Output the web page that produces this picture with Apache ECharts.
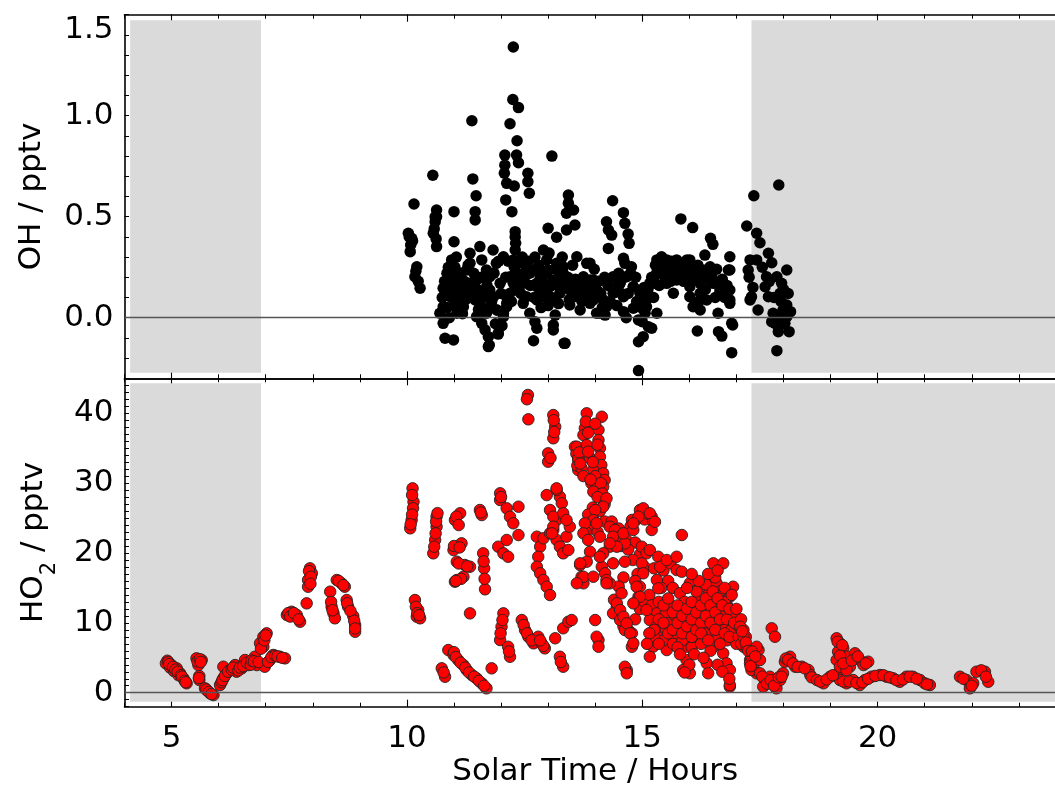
<!DOCTYPE html>
<html><head><meta charset="utf-8">
<script src="https://cdn.jsdelivr.net/npm/echarts@6/dist/echarts.min.js"></script>
<style>html,body{margin:0;padding:0;background:#fff;overflow:hidden}#c{width:1070px;height:792px}</style>
</head><body><div id="c"></div>
<script>
// OH (pptv) vs solar time (hours)
const ohData = [
[12.26,1.34],[12.25,1.08],[12.37,1.04],[11.38,0.975],[12.19,0.96],[12.34,0.876],[13.08,0.80],[12.08,0.805],[12.33,0.805],[12.08,0.755],[12.37,0.767],[12.07,0.715],[12.57,0.715],[12.57,0.673],[12.12,0.665],[12.28,0.652],[12.60,0.616],[10.55,0.705],[11.40,0.687],[11.47,0.604],[12.10,0.583],[12.23,0.525],[10.15,0.563],[10.63,0.533],[10.63,0.50],[11.0,0.525],[11.45,0.525],[11.45,0.484],[13.43,0.607],[13.43,0.566],[13.54,0.533],[13.39,0.517],[13.57,0.459],[13.39,0.434],[13.0,0.443],[13.18,0.398],[10.03,0.418],[10.10,0.393],[10.07,0.327],[10.6,0.475],[10.56,0.418],[10.63,0.352],[11.0,0.376],[12.3,0.426],[12.31,0.368],[12.30,0.335],[10.21,0.252],[10.17,0.203],[10.28,0.146],
[10.81,-0.102],[10.99,-0.110],[11.73,-0.094],[11.75,-0.135],[11.94,-0.081],[12.69,-0.114],[13.11,-0.061],[13.11,-0.036],[13.34,-0.127],[12.76,-0.052],[12.72,-0.02],[13.15,0.013],[13.46,0.063],[13.68,0.038],[10.77,-0.028],[10.70,0.022],[10.77,0.054],[11.48,0.005],[11.59,-0.028],[11.69,0.022],[11.91,0.038],[12.05,0.005],[12.12,0.054],[11.06,0.022],[11.2,0.054],[11.09,0.088],[11.73,-0.143],[11.94,-0.077],[13.36,-0.127],
[10.77,0.146],[10.95,0.286],[10.95,0.22],[11.16,0.17],[11.34,0.319],[11.34,0.269],
[11.55,0.352],[11.59,0.286],[11.76,0.203],[11.83,0.335],[11.90,0.269],[12.05,0.302],[12.26,0.286],[12.47,0.269],[12.61,0.22],[12.76,0.236],[12.90,0.335],[12.97,0.286],[13.18,0.269],[13.32,0.22],[13.61,0.302],[13.82,0.269],[13.96,0.187],
[11.06,0.203],[11.27,0.137],[11.41,0.104],[11.55,0.071],[11.76,0.137],[11.98,0.17],[12.19,0.203],[12.33,0.137],[12.54,0.104],[12.76,0.17],[12.90,0.104],[13.04,0.153],[13.25,0.121],[13.46,0.137],[13.61,0.104],[13.82,0.137],[13.89,0.071],
[10.92,0.104],[10.99,0.17],[11.27,0.236],[11.48,0.187],[11.69,0.236],[12.12,0.104],[12.47,0.17],[12.69,0.236],[12.83,0.203],[13.0,0.236],[13.32,0.252],[13.50,0.17],[13.75,0.203],[12.47,0.071],[12.61,0.022],
[10.85,0.22],[10.92,0.17],[11.06,0.153],[11.13,0.203],[11.20,0.121],[11.34,0.17],[11.45,0.088],[11.55,0.121],[11.62,0.038],[11.76,0.054],[11.84,0.104],[11.91,0.038],[12.05,0.022],[12.12,0.071],[12.19,0.121],[12.26,0.17],[12.40,0.203],[12.54,0.236],[12.76,0.153],[12.76,0.088],[12.83,0.121],[12.97,0.22],[13.11,0.187],[13.25,0.203],[13.39,0.153],[13.53,0.137],[13.68,0.121],[13.82,0.104],[13.96,0.088],[14.03,0.137],[14.10,0.022],[14.24,0.054],[14.38,0.121],[14.53,0.17],[14.67,0.203],[14.81,0.153],[14.95,0.121],[15.09,0.088],[15.16,0.17],[15.31,0.22],[15.45,0.252],[15.59,0.269],[15.73,0.203],[15.87,0.252],[16.01,0.286],[16.16,0.187],[16.30,0.22],[16.44,0.252],[16.51,0.17],[16.65,0.137],
[14.37,0.579],[14.60,0.52],[14.63,0.467],[14.70,0.414],[14.72,0.368],[14.24,0.475],[14.28,0.434],[14.35,0.409],[14.28,0.343],[14.60,0.294],[14.63,0.269],[14.77,0.252],[15.82,0.489],[16.07,0.446],[16.45,0.393],[16.50,0.363],[16.86,0.302],[16.83,0.236],[16.86,0.137],[16.86,0.071],[16.90,-0.028],[16.92,-0.036],[16.90,-0.173],[16.17,-0.066],[16.62,-0.069],[16.69,-0.091],[14.92,-0.119],[15.02,-0.094],[14.92,-0.262],[14.92,-0.011],[15.06,0.022],[15.13,-0.045],[15.09,0.054],[15.16,0.104],[15.27,0.17],[15.34,0.22],[15.38,0.269],[15.41,0.302],[15.2,-0.052],[15.31,0.022],
[13.89,0.269],[13.89,0.187],[14.03,0.137],[14.17,0.088],[14.03,0.022],[14.21,0.013],[14.38,0.203],[14.52,0.17],[14.60,0.104],[14.81,0.153],[14.81,0.047],[14.60,0.03],[15.02,0.104],
[15.31,0.286],[15.52,0.286],[15.73,0.286],[15.95,0.286],[16.33,0.31],[15.31,0.22],[15.59,0.236],[15.84,0.203],[16.08,0.252],[16.29,0.236],[16.44,0.244],[15.52,0.17],[15.73,0.187],[16.01,0.153],[16.23,0.17],[16.44,0.187],[16.65,0.162],[15.66,0.121],[16.01,0.104],[16.23,0.121],[16.37,0.088],[16.65,0.121],[16.08,0.054],[16.23,0.038],[16.61,0.022],[16.86,0.236],[16.86,0.088],
[10.05,0.40],[10.08,0.36],[10.12,0.38],[10.19,0.23],[10.24,0.18],[10.58,0.44],[10.62,0.39],[10.6,0.50],[10.75,0.10],[10.8,0.18],[10.85,0.05],[10.88,0.25],[10.9,0.0],[10.95,0.14],[11.0,0.06],[11.02,0.25],[11.05,0.30],[11.1,0.12],[11.15,0.22],[11.18,0.02],[11.22,0.18],[11.25,0.09],[11.3,0.26],[11.38,0.12],[11.42,0.22],[11.5,0.14],[11.52,0.04],[11.58,0.2],[11.62,0.1],[11.66,-0.06],[11.7,0.16],[11.8,0.08],[11.85,0.22],[11.88,-0.03],[11.95,0.28],[12.0,0.12],[12.02,-0.04],[12.1,0.2],[12.15,0.28],[12.22,0.08],[12.28,0.25],[12.3,0.4],[12.35,0.22],[12.42,0.12],[12.45,0.3],[12.5,0.2],[12.58,0.28],[12.62,0.16],[12.7,0.1],[12.72,0.3],[12.8,0.26],[12.85,0.05],[12.88,0.18],[12.95,0.14],[13.0,0.06],[13.02,0.32],[13.08,0.1],[13.15,0.24],[13.2,0.16],[13.22,0.07],[13.3,0.3],[13.35,0.18],[13.42,0.2],[13.45,0.09],[13.52,0.26],[13.58,0.19],[13.65,0.16],[13.72,0.08],[13.78,0.18],[13.85,0.15],[13.92,0.12],[13.98,0.24],[14.07,0.18],[14.12,0.12],[14.15,0.05],[14.2,0.2],[14.27,0.16],[14.32,0.08],[14.42,0.15],[14.46,0.06],[14.5,0.22],[14.56,0.12],[14.62,0.2],[14.66,0.0],[14.7,0.12],[14.75,0.22],[14.86,0.2],[14.88,0.08],[14.98,0.05],[15.0,-0.02],[15.04,0.15],[15.12,0.14],[15.2,0.2],[15.24,0.1],[15.28,0.26],[15.36,0.16],[15.42,0.24],[15.48,0.2],[15.55,0.22],[15.6,0.18],[15.62,0.28],[15.68,0.24],[15.76,0.22],[15.8,0.26],[15.88,0.18],[15.92,0.22],[15.98,0.24],[16.04,0.2],[16.12,0.22],[16.18,0.26],[16.2,0.08],[16.26,0.2],[16.34,0.14],[16.4,0.21],[16.48,0.2],[16.55,0.1],[16.58,0.24],[16.7,0.19],[16.75,0.1],[16.8,0.16],
[17.37,0.604],[17.90,0.657],[17.22,0.454],[17.43,0.418],[17.50,0.371],[17.68,0.319],[17.75,0.272],[18.07,0.236],[17.29,0.286],[17.43,0.286],[17.25,0.236],[17.64,0.203],[17.86,0.203],[17.61,0.153],[17.96,0.17],[17.68,0.104],[17.93,0.121],[18.07,0.063],[17.32,0.104],[17.29,0.088],[17.46,0.038],[17.78,0.022],[17.99,0.038],[18.07,0.005],[17.82,-0.028],[18.03,-0.028],[17.89,-0.069],[18.12,-0.069],[17.86,-0.163],
[17.27,0.2],[17.35,0.15],[17.55,0.25],[17.7,0.18],[17.8,0.1],[17.95,0.08],[18.0,0.14],[18.1,0.12],[18.15,0.03],[17.9,0.0],[17.98,-0.03],[17.75,-0.02]
];

// HO2 (pptv) vs solar time (hours)
const ho2Data = [
[4.91,4.58],[5.0,3.96],[5.11,3.49],[5.18,2.78],[5.25,2.06],[5.32,1.35],[4.88,4.2],[4.97,3.6],[5.05,3.1],[5.15,2.5],[5.53,4.92],[5.64,4.68],[5.57,3.96],[5.59,2.39],[5.59,1.82],[5.71,0.63],[5.82,-0.09],[5.89,-0.33],[5.76,0.3],[6.03,1.10],[6.10,2.06],[6.17,2.78],[6.10,3.72],[6.24,3.25],[6.38,3.01],[6.35,3.96],[6.49,3.49],[6.56,4.68],[6.63,3.96],[6.73,4.20],[6.77,5.15],[6.81,3.96],[6.88,7.07],[6.95,8.01],[7.02,8.50],[6.95,6.58],[6.98,3.72],[7.09,4.68],[7.16,5.40],[7.30,5.15],[7.41,4.92],[7.45,11.12],[7.55,11.59],[7.66,11.12],[7.73,10.16],[7.87,12.79],[7.94,17.80],[7.98,17.09],[7.90,16.13],[7.90,15.17],[8.37,14.46],[8.40,12.31],[8.44,11.36],[8.47,10.65],[8.51,16.13],[8.61,15.66],[8.68,15.17],[8.72,13.27],[8.75,12.31],[8.86,10.98],[8.90,9.69],[8.90,8.73],[10.17,13.27],[10.21,10.88],
[4.93,4.4],[4.95,4.1],[5.03,3.7],[5.08,3.3],[5.13,3.0],[5.2,2.5],[5.22,2.3],[5.28,1.7],[5.3,1.5],[5.55,4.5],[5.6,4.8],[5.62,4.4],[5.58,2.1],[5.74,0.45],[5.79,0.1],[5.85,-0.2],[6.06,1.5],[6.08,1.8],[6.13,2.4],[6.2,3.0],[6.28,3.3],[6.31,3.6],[6.42,3.2],[6.45,3.6],[6.52,3.8],[6.6,4.3],[6.68,4.0],[6.7,4.6],[6.75,4.5],[6.85,4.4],[6.9,6.3],[6.97,7.5],[7.0,8.2],[7.05,4.4],[7.12,5.1],[7.2,5.3],[7.25,5.2],[7.35,5.0],[7.48,11.4],[7.52,10.9],[7.6,11.4],[7.7,10.5],[7.92,17.4],[7.96,16.6],[7.95,15.6],[8.39,13.0],[8.42,11.8],[8.55,16.0],[8.65,15.4],[8.73,12.8],[8.8,11.7],[8.88,10.3],[8.9,9.2],
[12.57,42.61],[12.58,39.13],[13.11,39.74],[13.15,38.07],[13.11,36.41],[13.0,34.26],[13.0,33.06],[13.57,35.21],[13.64,33.30],[13.64,31.87],[10.12,29.25],[10.14,27.33],[10.10,24.72],[10.07,23.53],[10.24,11.84],[10.28,10.65],[10.63,25.19],[10.63,23.76],[10.60,21.86],[10.56,19.95],[11.02,24.72],[11.13,25.68],[10.99,20.42],[11.16,21.38],[11.06,18.75],[11.23,18.28],[11.34,18.03],[11.06,16.13],[11.20,16.60],[11.02,15.89],[11.55,26.15],[11.59,25.43],[11.62,19.95],[11.64,17.80],[11.66,14.80],[11.98,28.54],[11.98,27.58],[12.12,26.39],[12.19,25.19],[12.37,26.62],[12.26,24.25],[12.37,22.57],[11.94,20.90],[12.05,19.95],[12.15,19.46],[12.12,21.86],[11.34,11.36],[12.05,11.36],[12.01,9.45],[11.98,7.54],[12.15,6.58],[12.19,5.15],[12.44,10.40],[12.51,8.97],[12.58,8.01],[12.69,7.07],[12.79,8.01],[12.86,7.07],[12.93,6.35],[13.15,7.79],[13.32,9.22],[13.43,10.16],[13.25,5.15],[13.32,3.72],[10.88,6.11],[10.99,5.40],[11.09,4.68],[11.20,3.96],[11.27,3.25],[10.74,3.49],[10.81,2.29],[11.38,2.53],[11.48,2.06],[11.59,1.35],[11.69,0.63],[11.80,3.49],
[10.11,28.3],[10.13,26.4],[10.11,25.5],[10.08,24.1],[10.19,12.3],[10.22,11.4],[10.26,11.1],[10.62,24.5],[10.61,22.8],[10.58,20.9],[10.65,25.7],[11.05,25.2],[11.1,24.0],[11.0,21.0],[11.12,20.8],[11.15,16.3],[11.04,16.0],[11.1,18.5],[11.28,18.1],[11.57,25.8],[11.63,18.8],[11.65,16.3],[11.0,5.8],[11.04,5.1],[11.14,4.3],[11.24,3.6],[11.32,2.9],[11.43,2.3],[11.53,1.7],[11.64,1.0],[10.78,2.9],[12.0,28.0],[12.03,10.4],[11.99,8.5],[12.17,5.9],[12.48,9.7],[12.55,8.5],[12.65,7.5],[12.9,6.7],[12.83,7.5],[12.55,42.0],[13.12,39.0],[13.13,37.3],[13.05,33.6],[13.6,34.2],[13.62,32.5],[13.27,4.4],
[12.76,22.33],[12.83,20.90],[12.79,19.46],[12.76,18.03],[12.83,17.09],[12.90,16.13],[12.97,15.17],[13.04,13.98],[12.90,22.10],[13.04,22.81],[13.11,23.28],[13.18,24.72],[13.18,21.86],[13.25,20.90],[13.32,19.95],[13.39,22.33],[13.46,23.76],[13.43,20.42],[13.25,28.05],[13.18,29.01],
[12.97,28.29],[13.18,29.25],[13.29,27.11],[13.04,26.15],[13.11,25.19],[13.32,25.68],[13.39,24.72],[13.11,23.76],[13.08,22.81],
[13.82,39.99],[14.14,39.50],[13.78,37.84],[13.75,36.88],[14.07,37.60],[14.07,36.16],[13.61,35.21],[13.64,33.55],[13.71,32.12],[13.82,35.45],[13.89,33.55],[14.10,34.98],[14.10,33.78],[14.13,32.59],[13.96,31.87],[14.17,31.40],[14.20,30.44],[14.17,29.48],[13.92,29.97],[13.96,28.77],
[13.8,38.8],[13.85,37.2],[14.0,38.5],[14.05,35.5],[13.66,34.4],[13.68,32.8],[13.75,31.0],[13.85,34.5],[13.95,33.0],[14.0,31.0],[14.12,30.0],[14.15,28.5],[13.9,30.5],[14.05,28.0],[14.2,27.0],[14.1,26.0],[13.95,26.5],[13.85,25.5],[13.9,23.5],[13.8,23.0],[14.05,23.0],[14.2,24.5],[14.35,24.5],[14.45,22.0],[14.55,21.0],[14.5,23.5],[14.65,22.0],[14.75,23.8],[14.88,24.8],[15.05,24.8],[15.2,25.2],[14.85,21.5],[14.95,19.8],[15.05,18.0],[15.25,17.8],[15.45,17.5],[15.6,18.5],[15.55,16.0],[15.4,15.0],[15.65,15.0],[14.7,20.5],[14.8,19.0],[14.9,17.0],[14.85,16.0],[14.6,16.5],[14.5,15.2],[14.4,13.3],[14.5,11.0],[14.6,9.5],[14.7,9.0],[14.85,10.5],[14.95,12.0],[15.05,13.0],[15.15,14.0],[15.2,12.5],
[14.24,27.82],[14.17,26.62],[14.0,26.15],[13.96,24.72],[13.78,24.25],[13.75,22.81],[13.85,21.86],[14.03,24.25],[14.10,22.33],[14.31,23.76],[14.42,23.29],[14.53,22.33],[14.63,21.38],[14.31,20.90],[14.17,19.95],[13.89,20.18],[13.82,18.75],[13.68,18.28],[13.71,16.60],[13.75,15.66],[14.14,18.03],[14.21,17.09],[14.31,15.66],[14.24,16.13],[14.38,22.33],[14.46,20.90],[14.60,22.81],[14.81,23.29],[14.78,24.72],[14.95,26.15],[15.09,25.68],[15.23,24.47],[15.20,23.29],[14.99,20.90],[15.09,19.95],[14.99,18.52],[15.02,17.09],[15.16,20.42],[15.34,19.46],[15.38,18.03],[15.31,16.13],[15.34,14.94],[15.52,18.99],[15.73,19.46],[15.73,17.56],[15.84,17.32],[15.84,22.57],[14.95,15.17],[14.92,13.74],[14.56,14.23],[14.46,12.31],[14.38,11.36],[14.53,10.40],[14.63,8.97],[14.78,8.50],[14.78,6.58],[14.67,3.25],[14.07,7.54],[14.0,10.40],[13.50,10.40],
[15.02,26.39],[15.16,25.68],[15.27,24.47],[14.92,25.19],[14.81,24.25],[13.68,18.52],[13.75,16.60],[13.61,15.66],[14.03,8.01],[14.07,6.58],[14.63,3.72],[14.67,2.78],[14.63,18.75],[14.46,12.79],[14.53,11.84],[14.60,10.88],[14.67,9.93],[14.74,8.50],[14.81,7.07],[14.88,15.17],[14.95,13.74],[14.81,12.79],[13.96,16.60],[14.10,19.46],[14.31,21.38],[14.38,18.52],[14.24,15.66],
[16.51,18.52],[16.72,18.52],[16.51,16.60],[16.58,15.66],[16.93,15.17],[16.86,13.74],[16.01,15.66],[16.23,15.17],[15.80,14.23],[15.59,12.31],[15.31,11.36],[15.16,10.40],[15.09,11.84],
[15.23,6.58],[15.16,5.15],[15.52,7.07],[15.52,6.11],[15.94,6.58],[15.94,4.68],[15.87,3.25],[16.01,2.78],[16.37,4.21],[16.40,2.78],[16.51,6.58],[16.72,5.64],[16.79,4.21],[16.86,3.25],[16.86,0.86],[16.86,1.10],[17.0,8.50],[17.15,6.58],[17.29,4.68],[17.36,3.72],[17.43,2.78],
[15.3,9.5],[15.4,10.5],[15.4,8.5],[15.5,11.5],[15.5,9.0],[15.6,10.0],[15.6,12.5],[15.7,11.0],[15.7,8.0],[15.8,9.5],[15.8,12.0],[15.9,10.5],[15.9,13.0],[16.0,9.0],[16.0,11.5],[16.1,10.0],[16.1,12.5],[16.1,8.0],[16.2,11.0],[16.2,13.5],[16.3,9.5],[16.3,12.0],[16.35,10.5],[16.4,14.0],[16.4,8.5],[16.45,11.5],[16.5,9.5],[16.5,13.0],[16.55,10.5],[16.6,12.0],[16.6,8.0],[16.65,14.5],[16.7,10.0],[16.7,11.5],[16.75,9.0],[16.8,12.5],[16.8,7.5],[16.9,10.5],[16.9,9.0],[16.95,11.5],[17.0,7.0],[17.05,9.5],[15.35,13.0],[15.45,7.5],[15.65,7.0],[15.85,7.5],[16.05,6.5],[16.25,7.0],[16.45,6.0],[16.15,14.5],[15.95,15.0],[16.35,15.5],[16.55,16.5],[16.75,13.0],
[15.25,8.0],[15.35,10.5],[15.35,7.0],[15.45,12.5],[15.45,10.0],[15.55,8.5],[15.55,13.5],[15.65,9.0],[15.65,11.5],[15.75,10.0],[15.75,12.5],[15.75,6.5],[15.85,8.5],[15.85,11.0],[15.95,9.5],[15.95,12.0],[16.05,10.5],[16.05,13.0],[16.05,8.0],[16.15,9.0],[16.15,11.5],[16.25,10.0],[16.25,12.5],[16.25,8.5],[16.35,11.0],[16.35,13.5],[16.4,7.5],[16.45,10.0],[16.45,12.5],[16.5,14.5],[16.55,9.0],[16.55,11.5],[16.6,13.5],[16.65,10.5],[16.65,7.0],[16.7,12.5],[16.75,8.5],[16.75,15.0],[16.8,10.5],[16.85,12.0],[16.85,8.0],[16.9,14.0],[16.95,10.0],[17.0,12.0],[17.05,8.0],[17.1,10.5],[17.1,7.0],[17.15,9.0],[17.2,8.0],[16.1,5.5],[16.3,5.0],[15.8,5.5],[16.6,4.0],[16.7,3.0],[16.0,4.0],[15.9,2.9],[16.85,2.0],[16.2,16.0],[16.4,17.0],[16.6,17.5],[16.05,17.0],[15.25,9.0],[15.15,8.5],[15.1,7.0],
[17.08,9.45],[17.15,8.01],[17.22,6.58],[17.36,5.64],[17.47,6.11],[17.50,4.68],[17.29,4.21],[17.32,3.25],[17.75,9.22],[17.82,8.01],[17.50,2.78],[17.61,1.82],[17.57,0.86],[17.71,2.29],[17.78,1.35],[17.85,0.63],[17.93,1.82],[17.99,2.78],[18.03,4.44],[18.14,5.15],[18.25,3.72],[18.39,3.72],[18.53,3.25],[18.57,2.53],[17.43,6.58],[17.32,5.15],
[17.12,8.8],[17.2,7.2],[17.25,6.0],[17.33,5.9],[17.4,5.2],[17.3,3.8],[17.55,2.3],[17.65,1.3],[17.73,1.8],[17.8,1.0],[17.9,2.2],[17.96,2.3],[18.05,4.9],[18.1,4.7],[18.2,4.2],[18.3,3.7],[18.45,3.5],[18.6,2.2],
[18.71,1.82],[18.85,1.35],[18.99,2.29],[19.13,2.53],[19.20,1.82],[19.34,1.35],[19.48,1.82],[19.62,1.10],[19.73,1.82],[19.87,2.29],[20.05,2.53],[20.19,2.29],[20.33,2.06],[20.47,1.57],[20.61,2.29],[20.75,2.29],[20.90,1.82],[21.00,1.35],[21.11,1.10],
[18.78,1.6],[18.92,1.9],[19.05,2.5],[19.27,1.6],[19.4,1.6],[19.55,1.4],[19.68,1.5],[19.8,2.0],[19.95,2.4],[20.12,2.5],[20.26,2.2],[20.4,1.8],[20.54,1.9],[20.68,2.3],[20.83,2.0],[21.05,1.2],
[19.13,7.79],[19.20,7.07],[19.27,6.35],[19.16,5.87],[19.13,4.68],[19.20,3.72],[19.34,5.15],[19.41,3.72],[19.52,5.64],[19.62,4.68],[19.80,4.44],[19.70,3.96],[19.34,3.25],
[19.15,7.3],[19.25,6.8],[19.2,5.3],[19.27,4.2],[19.45,4.6],[19.58,5.2],[19.75,4.2],
[21.75,2.29],[21.89,1.82],[22.03,1.35],[21.96,0.63],[22.10,3.01],[22.28,3.01],[22.35,1.57],[21.82,2.0],[22.0,1.0],[22.2,3.2],[22.3,2.3]
];

// night-time (shaded) periods, solar hours
const nightPeriods = [[4.12, 6.9], [17.32, 23.9]];
const xTickLabels = [5, 10, 15, 20];
const ohTickLabels = [0, 0.5, 1.0, 1.5];
const ho2TickLabels = [0, 10, 20, 30, 40];

const FONT = 'DejaVu Sans';
const FS = 31;
const chart = echarts.init(document.getElementById('c'));

function xAx(grid, pos, major, labels) {
  const a = {
    type: 'value', gridIndex: grid, position: pos, min: 4, max: 24, interval: 1,
    axisLine: { show: !major, onZero: false, lineStyle: { color: '#000', width: 1.6 } },
    axisTick: major
      ? { inside: true, length: 7, customValues: xTickLabels, lineStyle: { color: '#000', width: 1.1 } }
      : { inside: true, length: 4, lineStyle: { color: '#000', width: 1 } },
    axisLabel: labels
      ? { show: true, customValues: xTickLabels, margin: 17, fontSize: FS, fontFamily: FONT, color: '#000' }
      : { show: false },
    splitLine: { show: false }
  };
  if (labels) {
    a.name = 'Solar Time / Hours';
    a.nameLocation = 'middle';
    a.nameGap = 50;
    a.nameTextStyle = { fontSize: FS, fontFamily: FONT, color: '#000' };
  }
  return a;
}

function bgSeries(xi, yi, ylo, yhi) {
  return {
    type: 'scatter', xAxisIndex: xi, yAxisIndex: yi, data: [], z: 1, silent: true,
    markArea: {
      silent: true, itemStyle: { color: '#dadada' },
      data: nightPeriods.map(p => [{ xAxis: p[0], yAxis: ylo }, { xAxis: p[1], yAxis: yhi }])
    },
    markLine: {
      silent: true, symbol: 'none', label: { show: false },
      lineStyle: { color: '#555', width: 1.4, type: 'solid' },
      data: [{ yAxis: 0 }]
    }
  };
}

const option = {
  backgroundColor: '#fff',
  animation: false,
  grid: [
    { left: 124.5, top: 14.7, width: 941.4, height: 363.6 },
    { left: 124.5, top: 378.3, width: 941.4, height: 328.4 }
  ],
  xAxis: [
    xAx(0, 'bottom', false, false), xAx(0, 'top', false, false),
    xAx(0, 'bottom', true, false), xAx(0, 'top', true, false),
    xAx(1, 'bottom', false, true), xAx(1, 'top', false, false),
    xAx(1, 'bottom', true, false), xAx(1, 'top', true, false)
  ],
  yAxis: [
    {
      type: 'value', gridIndex: 0, position: 'left', min: -0.3, max: 1.5, interval: 0.1,
      axisLine: { show: true, onZero: false, lineStyle: { color: '#000', width: 1.6 } },
      axisTick: { inside: true, length: 4.5, lineStyle: { color: '#000', width: 1 } },
      axisLabel: { customValues: ohTickLabels, formatter: v => Number(v).toFixed(1), margin: 11,
        fontSize: FS, fontFamily: FONT, color: '#000', verticalAlignMaxLabel: 'top' },
      splitLine: { show: false },
      name: 'OH / pptv', nameLocation: 'middle', nameGap: 77,
      nameTextStyle: { fontSize: FS, fontFamily: FONT, color: '#000' }
    },
    {
      type: 'value', gridIndex: 1, position: 'left', min: -2, max: 45, interval: 1,
      axisLine: { show: true, onZero: false, lineStyle: { color: '#000', width: 1.6 } },
      axisTick: { inside: true, length: 4.5, lineStyle: { color: '#000', width: 1 } },
      axisLabel: { customValues: ho2TickLabels, margin: 11, fontSize: FS, fontFamily: FONT, color: '#000' },
      splitLine: { show: false },
      name: '{a|HO}{s|2}{a| / pptv}', nameLocation: 'middle', nameGap: 64,
      nameTextStyle: {
        rich: {
          a: { fontSize: FS, fontFamily: FONT, color: '#000', lineHeight: 42, verticalAlign: 'top' },
          s: { fontSize: 21, fontFamily: FONT, color: '#000', lineHeight: 21, verticalAlign: 'bottom' }
        }
      }
    }
  ],
  graphic: [
    { type: 'text', left: 997, top: 27, style: { text: '(a)', font: FS + 'px "' + FONT + '"', fill: '#000' } },
    { type: 'text', left: 997, top: 389, style: { text: '(b)', font: FS + 'px "' + FONT + '"', fill: '#000' } }
  ],
  series: [
    bgSeries(0, 0, -0.272, 1.472),
    bgSeries(4, 1, -1.3, 44.3),
    {
      type: 'scatter', xAxisIndex: 0, yAxisIndex: 0, data: ohData, z: 3,
      symbol: 'circle', symbolSize: 11.5, itemStyle: { color: '#000', opacity: 1 }
    },
    {
      type: 'scatter', xAxisIndex: 4, yAxisIndex: 1, data: ho2Data, z: 3,
      symbol: 'circle', symbolSize: 11.5,
      itemStyle: { color: '#ff0000', borderColor: '#222', borderWidth: 0.9, opacity: 1 }
    }
  ]
};
chart.setOption(option);
</script>
</body></html>
